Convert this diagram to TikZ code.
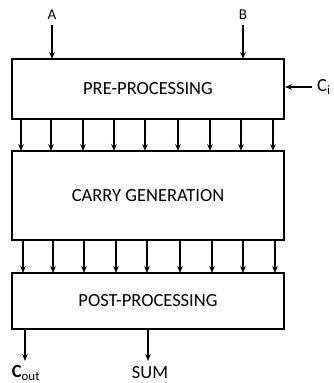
\documentclass[tikz,border=0pt]{standalone}
\usepackage{fontspec}
\setmainfont{Carlito}
\usetikzlibrary{arrows.meta}
\begin{document}
\begin{tikzpicture}[x=1pt,y=-1pt,
  blk/.style={draw,line width=1.7pt,minimum width=272pt,inner sep=0pt,font=\fontsize{18.5}{22}\selectfont},
  sig/.style={line width=1.2pt,-{Stealth[length=7pt,width=5.5pt]}},
  lbl/.style={inner sep=0pt,font=\fontsize{15}{18}\selectfont}]
\useasboundingbox (0,0) rectangle (333,383);
\node[blk,minimum height=60pt] (pre) at (148,89) {PRE-PROCESSING};
\node[blk,minimum height=89pt] (cg) at (148,195.5) {CARRY GENERATION};
\node[blk,minimum height=56pt] (post) at (148,301) {POST-PROCESSING};
\node[lbl] (A) at (52,15) {A};
\node[lbl] (B) at (243,15) {B};
\coordinate (Ain) at (52,59);
\coordinate (Bin) at (243,59);
\coordinate (Aout) at (52,25);
\coordinate (Bout) at (243,25);
\draw[sig] (Aout) -- (Ain);
\draw[sig] (Bout) -- (Bin);
\node[lbl,anchor=west,font=\fontsize{18.5}{22}\selectfont] (ci) at (317,87) {C\textsubscript{i}};
\coordinate (ciin) at (285,87);
\coordinate (ciout) at (312,87);
\draw[sig] (ciout) -- (ciin);
\foreach \i/\xa/\xb in {1/21/23,2/51/53,3/83/84,4/114/116,5/145/147,6/178/180,7/210/212,8/241/243,9/273/275}{
  \coordinate (u\i) at (\xa,119);
  \coordinate (v\i) at (\xa,151);
  \draw[sig] (u\i) -- (v\i);
  \coordinate (p\i) at (\xb,240);
  \coordinate (q\i) at (\xb,273);
  \draw[sig] (p\i) -- (q\i);
}
\coordinate (co) at (25,329);
\coordinate (so) at (148,329);
\coordinate (coe) at (25,361);
\coordinate (soe) at (148,361);
\node[lbl,font=\fontsize{18.5}{22}\selectfont] (cout) at (26,373) {\textbf{C}\textsubscript{out}};
\node[lbl,font=\fontsize{18.5}{22}\selectfont] (sum) at (150,373) {SUM};
\draw[sig] (co) -- (coe);
\draw[sig] (so) -- (soe);
\end{tikzpicture}
\end{document}
